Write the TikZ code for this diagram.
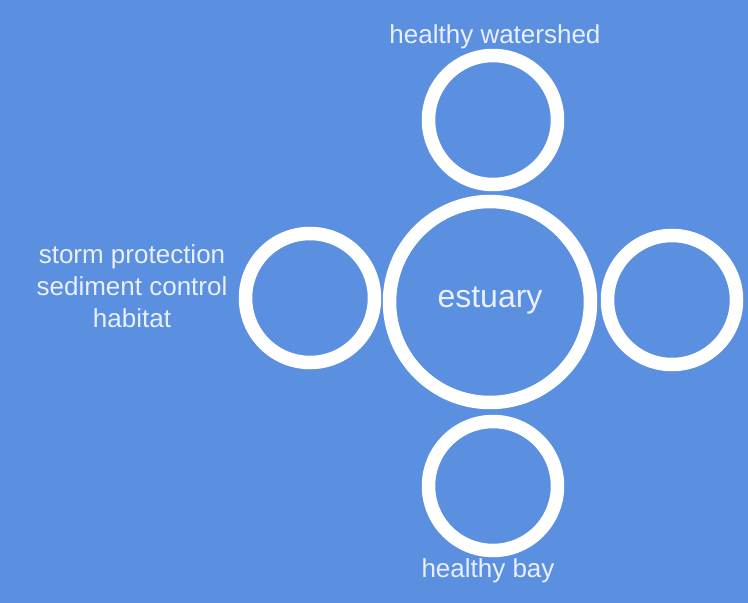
\documentclass[tikz,border=0pt]{standalone}
\usepackage{fontspec}
\setmainfont{Liberation Sans}
\definecolor{bg}{RGB}{91,143,224}
\definecolor{txt}{RGB}{232,240,255}
\begin{document}
\begin{tikzpicture}[x=1pt,y=-1pt,
  ring/.style={circle,draw=white,line width=13.5pt,inner sep=0pt},
  small/.style={ring,minimum size=129pt},
  big/.style={ring,minimum size=201pt},
  lbl/.style={text=txt,font=\fontsize{26}{32}\selectfont,anchor=base,inner sep=0pt}]
\fill[bg] (0,0) rectangle (748,603);
\useasboundingbox (0,0) rectangle (748,603);
\node[big] (est) at (490,302) {};
\node[small] (top) at (493,120) {};
\node[small] (bot) at (493,486) {};
\node[small] (left) at (310,298) {};
\node[small] (right) at (672,300) {};
\node[lbl,font=\fontsize{32}{36}\selectfont] (estl) at (490,307) {estuary};
\node[lbl] (topl) at (495,43) {healthy watershed};
\node[lbl] (botl) at (488,577) {healthy bay};
\node[lbl] (l1) at (132,263) {storm protection};
\node[lbl] (l2) at (132,295) {sediment control};
\node[lbl] (l3) at (132,327) {habitat};
\end{tikzpicture}
\end{document}
